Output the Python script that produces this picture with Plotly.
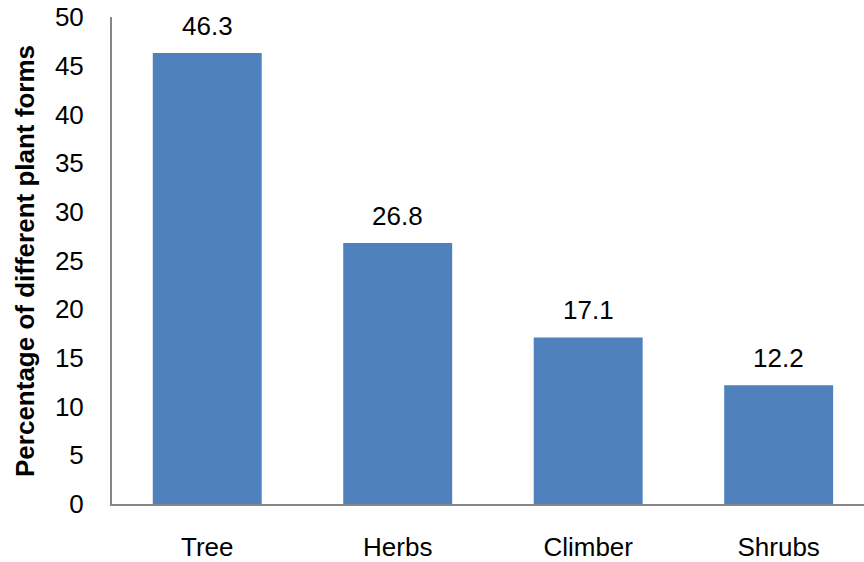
import plotly.graph_objects as go

categories = ["Tree", "Herbs", "Climber", "Shrubs"]
values = [46.3, 26.8, 17.1, 12.2]
value_labels = ["46.3", "26.8", "17.1", "12.2"]
y_ticks = [0, 5, 10, 15, 20, 25, 30, 35, 40, 45, 50]

FONT = "Liberation Sans, Arial, sans-serif"

fig = go.Figure()
fig.add_trace(go.Bar(
    x=categories, y=values,
    marker=dict(color="#4F81BD", line=dict(width=0)),
    width=0.572,
))

for c, v, t in zip(categories, values, value_labels):
    fig.add_annotation(x=c, y=v, text=t, showarrow=False, xref="x", yref="y",
                       yanchor="middle", yshift=27,
                       font=dict(family=FONT, size=26, color="#000000"))

fig.add_annotation(xref="paper", yref="paper", x=(25 - 112) / 752, y=(506 - 262) / 489,
                   text="<b>Percentage of different plant forms</b>", textangle=-90,
                   showarrow=False, xanchor="center", yanchor="middle",
                   font=dict(family=FONT, size=26, color="#000000"))

fig.update_layout(
    width=864, height=562,
    margin=dict(l=112, r=0, t=17, b=56),
    paper_bgcolor="white", plot_bgcolor="white",
    showlegend=False,
    font=dict(family=FONT, size=26, color="#000000"),
    xaxis=dict(type="category", range=[-0.5, 3.448], showline=True, linecolor="#868686",
               linewidth=2, ticks="", showgrid=False, ticklabelstandoff=19,
               tickfont=dict(family=FONT, size=26, color="#000000")),
    yaxis=dict(range=[0, 50], tickvals=y_ticks, showline=True, linecolor="#868686",
               linewidth=2, ticks="", showgrid=False, zeroline=False, ticklabelstandoff=21,
               tickfont=dict(family=FONT, size=26, color="#000000")),
)

fig.write_html("out.html")
